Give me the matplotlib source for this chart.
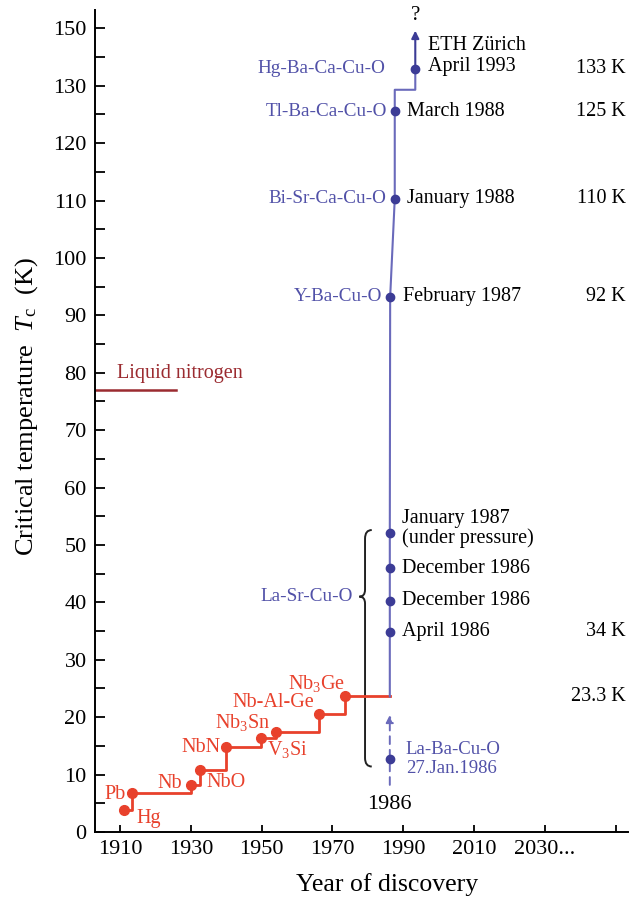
import numpy as np
import matplotlib
matplotlib.use("Agg")
import matplotlib.pyplot as plt
from matplotlib.path import Path
from matplotlib.patches import PathPatch
import matplotlib.transforms as mtransforms

plt.rcParams['font.family'] = ['Liberation Serif', 'DejaVu Serif']
plt.rcParams['mathtext.fontset'] = 'custom'
plt.rcParams['mathtext.rm'] = 'Liberation Serif'
plt.rcParams['mathtext.it'] = 'Liberation Serif:italic'
plt.rcParams['mathtext.bf'] = 'Liberation Serif:bold'

# low-temperature (metallic) superconductors
lts_names = ['Hg', 'Pb', 'Nb', 'NbO', 'NbN', 'V$_3$Si', 'Nb$_3$Sn', 'Nb-Al-Ge', 'Nb$_3$Ge']
lts_years = [1911, 1913.4, 1930, 1932.6, 1940, 1949.9, 1954, 1966.3, 1973.6]
lts_tc = [3.8, 6.8, 8.2, 10.8, 14.8, 16.3, 17.5, 20.6, 23.6]

# cuprates
hts_years = [1986.2, 1986.2, 1986.2, 1986.2, 1986.2, 1986.3, 1987.6, 1987.6, 1993.4]
hts_tc = [12.7, 34.9, 40.3, 45.9, 52.0, 93.2, 110.3, 125.6, 133.0]
hts_dates = [None, 'April 1986', 'December 1986', 'December 1986',
             'January 1987\n(under pressure)', 'February 1987', 'January 1988',
             'March 1988', 'ETH Zürich\nApril 1993']
hts_names = [None, None, None, None, None, 'Y-Ba-Cu-O', 'Bi-Sr-Ca-Cu-O',
             'Tl-Ba-Ca-Cu-O', 'Hg-Ba-Ca-Cu-O']
hts_kelvin = [None, '34 K', None, None, None, '92 K', '110 K', '125 K', '133 K']

nitrogen_tc = 77.0
nitrogen_end = 1925.7

xtick_vals = [1910, 1930, 1950, 1970, 1990, 2010, 2030, 2050]
xtick_labels = ['1910', '1930', '1950', '1970', '1990', '2010', '2030...', '']
ytick_vals = [0, 10, 20, 30, 40, 50, 60, 70, 80, 90, 100, 110, 120, 130, 140]
ytick_labels = ['0', '10', '20', '30', '40', '50', '60', '70', '80', '90',
                '100', '110', '120', '130', '150']

RED = '#e8412c'
DARKRED = '#9b2b30'
BLUE_LINE = '#6a6abb'
BLUE_DOT = '#3c3c96'
BLUE_TXT = '#5151a8'

fig = plt.figure(figsize=(6.3, 9), dpi=100)
ax = fig.add_axes([0.1508, 0.0756, 0.846, 0.9133])
ax.set_xlim(1902.9, 2053.5)
ax.set_ylim(0, 143.2)

for s in ['top', 'right']:
    ax.spines[s].set_visible(False)
for s in ['left', 'bottom']:
    ax.spines[s].set_linewidth(1.4)

ax.set_xticks(xtick_vals)
ax.set_xticklabels(xtick_labels)
ax.set_yticks(ytick_vals)
ax.set_yticklabels(ytick_labels)
ax.set_yticks(np.arange(5, 140, 10), minor=True)
ax.tick_params(axis='y', which='both', direction='in', length=7, width=1.3, labelsize=16, pad=6)
ax.tick_params(axis='x', which='both', direction='in', length=5, width=1.3, labelsize=16, pad=6)

ax.set_xlabel('Year of discovery', fontsize=18.5)
ax.xaxis.set_label_coords(0.548, -0.05)
ax.set_ylabel('Critical temperature  $T_\\mathrm{c}$  (K)', fontsize=19)
ax.yaxis.set_label_coords(-0.103, 0.517)

# liquid nitrogen
ax.plot([ax.get_xlim()[0], nitrogen_end], [nitrogen_tc, nitrogen_tc], color=DARKRED, lw=1.8)
ax.text(1909, nitrogen_tc + 1.2, 'Liquid nitrogen', color=DARKRED, fontsize=14.5,
        ha='left', va='bottom')

# metallic superconductors, step line
step_x = lts_years + [hts_years[1]]
step_y = lts_tc + [lts_tc[-1]]
ax.step(step_x, step_y, where='post', color=RED, lw=2, zorder=3)
ax.plot(lts_years, lts_tc, 'o', color=RED, ms=7, zorder=4)

lts_offsets = [(9, -6, 'left'), (-5, -1, 'right'), (-6.5, 1, 'right'), (4.3, -9, 'left'),
               (-4.3, 0, 'right'), (4, -7.7, 'left'), (-4.3, 6.5, 'right'),
               (-3.8, 8, 'right'), (0, 9.5, 'right')]
for name, x, y, (dx, dy, ha) in zip(lts_names, lts_years, lts_tc, lts_offsets):
    ax.annotate(name, (x, y), xytext=(dx, dy), textcoords='offset points',
                ha=ha, va='center', color=RED, fontsize=14.5)

# cuprates line
line_x = [hts_years[1], hts_years[4], hts_years[5], hts_years[6], hts_years[7],
          hts_years[7], hts_years[8], hts_years[8]]
line_y = [lts_tc[-1], hts_tc[4], hts_tc[5], hts_tc[6], hts_tc[7], 129.3, 129.3, hts_tc[8]]
ax.plot(line_x, line_y, color=BLUE_LINE, lw=1.5, zorder=3)
ax.annotate('', xy=(hts_years[8], 139.6), xytext=(hts_years[8], hts_tc[8]),
            arrowprops=dict(arrowstyle='-|>', color=BLUE_DOT, lw=1.5,
                            mutation_scale=11, shrinkA=0, shrinkB=0))
ax.text(hts_years[8], 142.3, '?', ha='center', va='center', fontsize=15)

# dashed arrow for La-Ba-Cu-O
ax.annotate('', xy=(hts_years[0], 20.4), xytext=(hts_years[0], 8.2),
            arrowprops=dict(arrowstyle='-|>', color=BLUE_LINE, lw=1.4, ls=(0, (4, 3)),
                            mutation_scale=11, shrinkA=0, shrinkB=0))
ax.plot(hts_years, hts_tc, 'o', color=BLUE_DOT, ms=6, zorder=4)

ax.annotate('La-Ba-Cu-O\n27.Jan.1986', (hts_years[0], hts_tc[0]), xytext=(11.5, 0),
            textcoords='offset points', ha='left', va='center', color=BLUE_TXT,
            fontsize=13.5, linespacing=1.1)
ax.text(hts_years[0], 4.7, '1986', ha='center', va='center', fontsize=16)

for i, (x, y) in enumerate(zip(hts_years, hts_tc)):
    if hts_dates[i]:
        dy, ls = 0, 1.0
        if i == 4:
            dy = 3.5
        if i == 8:
            dy, ls = 9, 1.2
        ax.annotate(hts_dates[i], (x, y), xytext=(9, dy), textcoords='offset points',
                    ha='left', va='center', fontsize=14.5, linespacing=ls)
    if hts_names[i]:
        dx = -21.6 if i == 8 else -5.8
        ax.annotate(hts_names[i], (x, y), xytext=(dx, 0), textcoords='offset points',
                    ha='right', va='center', color=BLUE_TXT, fontsize=13.8)

trans = mtransforms.blended_transform_factory(ax.transAxes, ax.transData)
for y, lab in zip(hts_tc, hts_kelvin):
    if lab:
        ax.text(0.996, y, lab, transform=trans, ha='right', va='center', fontsize=14.5)
ax.text(0.996, lts_tc[-1], '23.3 K', transform=trans, ha='right', va='center', fontsize=14.5)

# brace around La-Sr-Cu-O family
top = hts_tc[4] + 0.6
bot = hts_tc[0] - 1.3
mid = hts_tc[2] + 0.7
xs, xe, xn = 1979.2, 1981.1, 1977.6
verts = [(xe, top), (xs, top), (xs, top - 1.5),
         (xs, mid + 1.2), (xs, mid), (xn, mid),
         (xs, mid), (xs, mid - 1.2),
         (xs, bot + 1.5), (xs, bot), (xe, bot)]
codes = [Path.MOVETO, Path.CURVE3, Path.CURVE3,
         Path.LINETO, Path.CURVE3, Path.CURVE3,
         Path.CURVE3, Path.CURVE3,
         Path.LINETO, Path.CURVE3, Path.CURVE3]
ax.add_patch(PathPatch(Path(verts, codes), fill=False, color='#222222', lw=1.4))
ax.text(xn - 1.8, mid, 'La-Sr-Cu-O', ha='right', va='center', color=BLUE_TXT, fontsize=13.8)

fig.savefig('out.png', dpi=100)
